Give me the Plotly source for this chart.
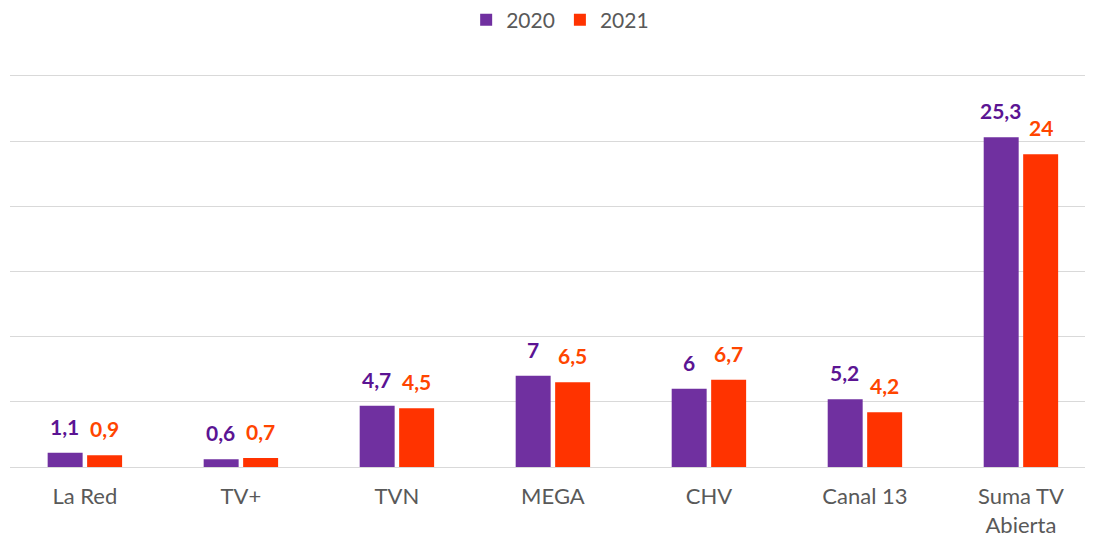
import plotly.graph_objects as go

categories = ["La Red", "TV+", "TVN", "MEGA", "CHV", "Canal 13", "Suma TV<br>Abierta"]
values_2020 = [1.1, 0.6, 4.7, 7, 6, 5.2, 25.3]
values_2021 = [0.9, 0.7, 4.5, 6.5, 6.7, 4.2, 24]
series_names = ["2020", "2021"]
bar_colors = ["#7030A0", "#FF3300"]
label_colors = ["#5B1493", "#FF4500"]

def fmt(v):
    return ("%g" % v).replace(".", ",")

FONT = "Lato, Open Sans, sans-serif"

fig = go.Figure()
for name, vals, col in zip(series_names, [values_2020, values_2021], bar_colors):
    fig.add_trace(go.Bar(name=name, x=categories, y=vals, marker_color=col,
                         marker_line_width=0, cliponaxis=False))

# data labels
for vals, lcol, xs in zip([values_2020, values_2021], label_colors, [-20, 20]):
    for c, v in zip(categories, vals):
        fig.add_annotation(x=c, y=v, text="<b>%s</b>" % fmt(v), showarrow=False,
                           xshift=xs, yshift=12, yanchor="bottom",
                           font=dict(family=FONT, size=21, color=lcol))

fig.update_layout(
    width=1085, height=529,
    margin=dict(l=2, r=0, t=66, b=70, autoexpand=False),
    paper_bgcolor="white", plot_bgcolor="white",
    barmode="group", bargap=0.494, bargroupgap=0.114,
    font=dict(family=FONT, color="#595959", size=20),
    legend=dict(orientation="h", x=0.508, xanchor="center", y=1.137, yanchor="middle",
                font=dict(size=21, color="#595959"), itemwidth=30, tracegroupgap=0),
    xaxis=dict(range=[-0.48, 6.462], showgrid=False, ticks="", tickfont=dict(size=22, color="#595959"),
               ticklabelstandoff=14, showline=False),
    yaxis=dict(range=[0, 30.15], dtick=5, showticklabels=False, gridcolor="#d9d9d9", gridwidth=1.3,
               zeroline=True, zerolinecolor="#d9d9d9", zerolinewidth=1.3),
)

fig.write_html("out.html")
